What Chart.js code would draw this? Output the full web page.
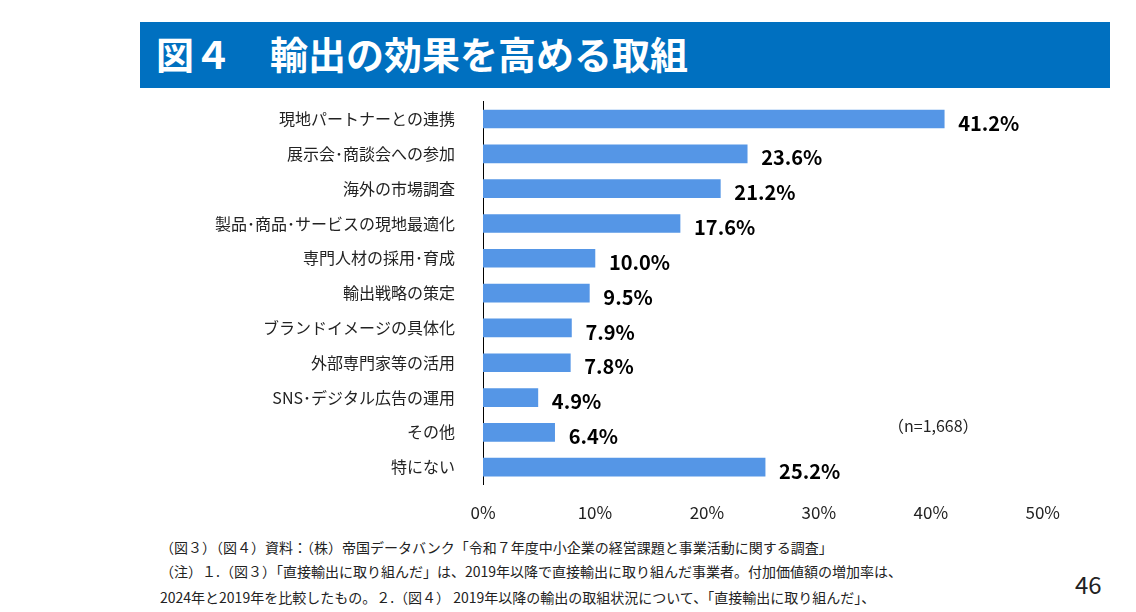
<!DOCTYPE html>
<html><head><meta charset="utf-8">
<script src="https://cdn.jsdelivr.net/npm/chart.js@4"></script>
<style>
body{margin:0;width:1136px;height:612px;background:#fff;font-family:"Noto Sans CJK JP","Noto Sans",sans-serif;position:relative;overflow:hidden}
#banner{position:absolute;left:140px;top:22px;width:970px;height:66px;background:#0070C0;color:#fff;font-weight:bold;font-size:38px;line-height:62px;padding-left:16px;box-sizing:border-box}
#wrap{position:absolute;left:150px;top:72px;width:920px;height:461px}
.note{position:absolute;left:160px;font-size:14px;color:#222;white-space:nowrap}
#pg{position:absolute;left:1075px;top:566px;font-size:24px;color:#222}
#n{position:absolute;left:888px;top:413px;font-size:16px;color:#222}
</style></head><body>
<div id="banner">図４　輸出の効果を高める取組</div>
<div id="wrap"><canvas id="c"></canvas></div>
<div id="n">（n=1,668）</div>
<div class="note" style="top:537px">（図３）（図４）資料：（株）帝国データバンク「令和７年度中小企業の経営課題と事業活動に関する調査」</div>
<div class="note" style="top:561px">（注）１.（図３）「直接輸出に取り組んだ」は、2019年以降で直接輸出に取り組んだ事業者。付加価値額の増加率は、</div>
<div class="note" style="top:587px">2024年と2019年を比較したもの。２.（図４） 2019年以降の輸出の取組状況について、「直接輸出に取り組んだ」、</div>
<div id="pg">46</div>
<script>
const categories=["現地パートナーとの連携","展示会･商談会への参加","海外の市場調査","製品･商品･サービスの現地最適化","専門人材の採用･育成","輸出戦略の策定","ブランドイメージの具体化","外部専門家等の活用","SNS･デジタル広告の運用","その他","特にない"];
const values=[41.2,23.6,21.2,17.6,10.0,9.5,7.9,7.8,4.9,6.4,25.2];
const xTicks=[0,10,20,30,40,50];
const labelPlugin={id:'lbl',afterDatasetsDraw(ch){const ctx=ch.ctx;const m=ch.getDatasetMeta(0);ctx.save();ctx.font='bold 20px "Noto Sans CJK JP",sans-serif';ctx.fillStyle='#000';ctx.textBaseline='middle';m.data.forEach((b,i)=>{ctx.fillText(values[i].toFixed(1)+'%',b.x+14,b.y+4);});ctx.restore();}};
new Chart(document.getElementById('c'),{type:'bar',data:{labels:categories,datasets:[{data:values,backgroundColor:'#5596E6',barThickness:18}]},
options:{indexAxis:'y',responsive:true,maintainAspectRatio:false,animation:false,
layout:{padding:{right:20,top:0,bottom:0}},
plugins:{legend:{display:false},tooltip:{enabled:false}},
scales:{x:{min:0,max:50,afterBuildTicks(a){a.ticks=xTicks.map(v=>({value:v}));},ticks:{callback:v=>v+'%',color:'#222',font:{size:17,family:'"Noto Sans CJK JP",sans-serif'},padding:10},grid:{display:false},border:{display:false}},
y:{afterFit(a){a.width=333;},ticks:{color:'#222',font:{size:16,family:'"Noto Sans CJK JP",sans-serif'},padding:20},grid:{display:false},border:{display:true,color:'#000',width:1}}}},
plugins:[labelPlugin]});
</script></body></html>
